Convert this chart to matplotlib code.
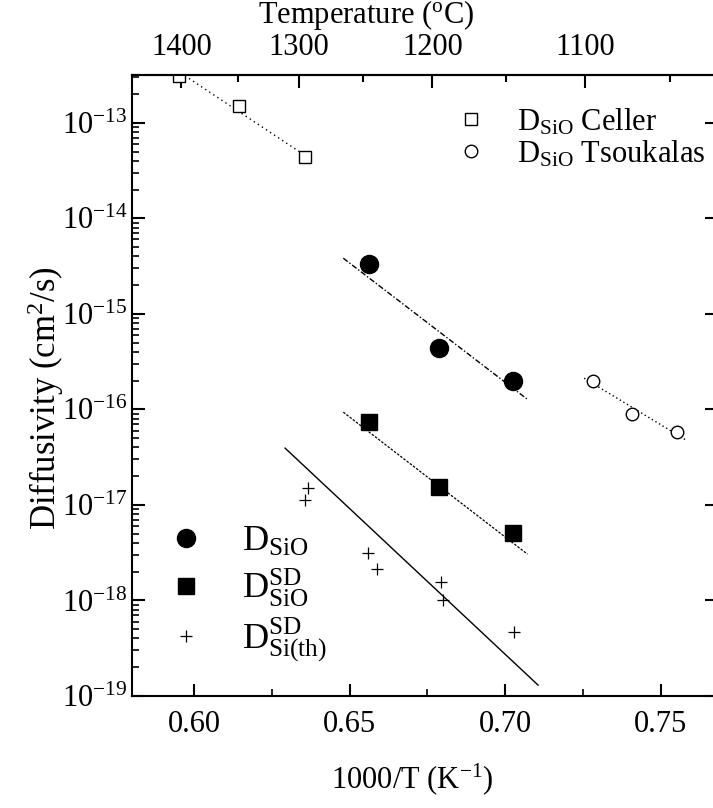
# diffusivity vs 1000/T, log scale, with temperature on the top axis
import numpy as np
import matplotlib
matplotlib.use('Agg')
import matplotlib.pyplot as plt
from matplotlib.ticker import MultipleLocator, FixedLocator, NullFormatter

plt.rcParams['font.family'] = ['Liberation Serif', 'DejaVu Serif']
plt.rcParams['mathtext.fontset'] = 'custom'
plt.rcParams['mathtext.rm'] = 'Liberation Serif'
plt.rcParams['mathtext.it'] = 'Liberation Serif:italic'
plt.rcParams['mathtext.default'] = 'regular'

# data (x = 1000/T in 1/K, y = D in cm^2/s)
celler_x = [0.5952, 0.6146, 0.6357]
celler_y = [3.05e-13, 1.50e-13, 4.37e-14]
tsou_x = [0.7283, 0.7408, 0.7553]
tsou_y = [1.97e-16, 8.9e-17, 5.78e-17]
dsio_x = [0.6563, 0.6786, 0.7026]
dsio_y = [3.30e-15, 4.36e-16, 1.97e-16]
dsd_x = [0.6563, 0.6786, 0.7026]
dsd_y = [7.35e-17, 1.53e-17, 5.07e-18]
dth_x = [0.6367, 0.6358, 0.6560, 0.6589, 0.6795, 0.6801, 0.7029]
dth_y = [1.50e-17, 1.12e-17, 3.13e-18, 2.13e-18, 1.56e-18, 1.01e-18, 4.66e-19]

# fitted lines (end points)
celler_fit_x = [0.5984, 0.6386]
celler_fit_y = [2.91e-13, 3.94e-14]
tsou_fit_x = [0.7254, 0.7582]
tsou_fit_y = [2.12e-16, 4.76e-17]
dsio_fit_x = [0.648, 0.7075]
dsio_fit_y = [3.82e-15, 1.25e-16]
dsd_fit_x = [0.648, 0.7072]
dsd_fit_y = [9.35e-17, 3.05e-18]
dth_fit_x = [0.6293, 0.7106]
dth_fit_y = [3.93e-17, 1.30e-19]

temp_major = [1400, 1300, 1200, 1100]
temp_minor = [1350, 1250, 1150, 1050]
# the top scale in the picture sits a bit off 273.15, this offset matches the ticks
K_OFF = 278.0

fig = plt.figure(figsize=(7.13, 8.08), dpi=100)
ax = fig.add_axes([0.1847, 0.1386, 0.8205, 0.7686])

ax.plot(celler_fit_x, celler_fit_y, color='k', ls=(0, (1, 2.5)), lw=1.0)
ax.plot(tsou_fit_x, tsou_fit_y, color='k', ls=(0, (1, 2)), lw=1.0)
ax.plot(dsio_fit_x, dsio_fit_y, color='k', ls=(0, (4, 1.5, 1, 1.5)), lw=1.0)
ax.plot(dsd_fit_x, dsd_fit_y, color='k', ls=(0, (2, 1.2)), lw=0.9)
ax.plot(dth_fit_x, dth_fit_y, color='k', ls='-', lw=1.0)

h1, = ax.plot(celler_x, celler_y, 's', mfc='white', mec='k', ms=8, mew=1.0, ls='none')
h2, = ax.plot(tsou_x, tsou_y, 'o', mfc='white', mec='k', ms=9, mew=1.0, ls='none')
h3, = ax.plot(dsio_x, dsio_y, 'o', color='k', ms=13, ls='none')
h4, = ax.plot(dsd_x, dsd_y, 's', color='k', ms=11.5, ls='none')
h5, = ax.plot(dth_x, dth_y, '+', color='k', ms=9, mew=0.9, ls='none')

ax.set_yscale('log')
ax.set_xlim(0.58, 0.768)
ax.set_ylim(1e-19, 10**-12.5)

ax.xaxis.set_major_locator(MultipleLocator(0.05))
ax.xaxis.set_minor_locator(MultipleLocator(0.025))
ax.xaxis.set_major_formatter(plt.FuncFormatter(lambda v, p: '%.2f' % v))
decades = range(-19, -12)
ax.yaxis.set_major_locator(FixedLocator([10.0**e for e in range(-19, -12)]))
ax.yaxis.set_minor_locator(FixedLocator([k * 10.0**e for e in decades for k in range(2, 10)]))
ax.yaxis.set_major_formatter(plt.FuncFormatter(lambda v, p: r'10$^{%d}$' % round(np.log10(v))))
ax.yaxis.set_minor_formatter(NullFormatter())

ax.tick_params(which='both', direction='in', top=False, right=True, labelsize=22)
ax.tick_params(which='major', length=9, width=1.5)
ax.tick_params(which='minor', length=5, width=1.2)
ax.tick_params(axis='y', which='minor', right=False)
ax.tick_params(axis='x', pad=10)
ax.tick_params(axis='y', pad=3)
for s in ax.spines.values():
    s.set_linewidth(1.5)

ax.set_xlabel(r'1000/T (K$^{-1}$)', fontsize=22)
ax.xaxis.set_label_coords(0.48, -0.105)
ax.set_ylabel(r'Diffusivity (cm$^2$/s)', fontsize=25)
ax.yaxis.set_label_coords(-0.112, 0.48)

# top temperature axis
sec = ax.secondary_xaxis('top', functions=(lambda x: 1000.0 / np.asarray(x) - K_OFF,
                                           lambda t: 1000.0 / (np.asarray(t) + K_OFF)))
sec.set_xticks(temp_major)
sec.set_xticks(temp_minor, minor=True)
sec.tick_params(which='both', direction='in', labelsize=22, pad=9)
sec.tick_params(which='major', length=9, width=1.5)
sec.tick_params(which='minor', length=5, width=1.5)
sec.spines['top'].set_linewidth(1.5)
sec.set_xlabel(r'Temperature ($^{\mathrm{o}}$C)', fontsize=22)
sec.xaxis.set_label_coords(0.40, 1.083, transform=ax.transAxes)

leg1 = ax.legend([h1, h2], [r'D$_{\mathrm{SiO}}$ Celler', r'D$_{\mathrm{SiO}}$ Tsoukalas'],
                 loc='upper left', bbox_to_anchor=(0.554, 0.949), frameon=False,
                 fontsize=22, handlelength=1.0, handletextpad=1.0, labelspacing=0.05,
                 borderpad=0, borderaxespad=0)
ax.add_artist(leg1)
ax.legend([h3, h4, h5],
          [r'D$_{\mathrm{SiO}}$', r'D$_{\mathrm{SiO}}^{\mathrm{SD}}$', r'D$_{\mathrm{Si(th)}}^{\mathrm{SD}}$'],
          loc='upper left', bbox_to_anchor=(0.062, 0.274), frameon=False,
          fontsize=26, handlelength=1.0, handletextpad=1.05, labelspacing=0.2,
          borderpad=0, borderaxespad=0)

fig.savefig('out.png', dpi=100)
